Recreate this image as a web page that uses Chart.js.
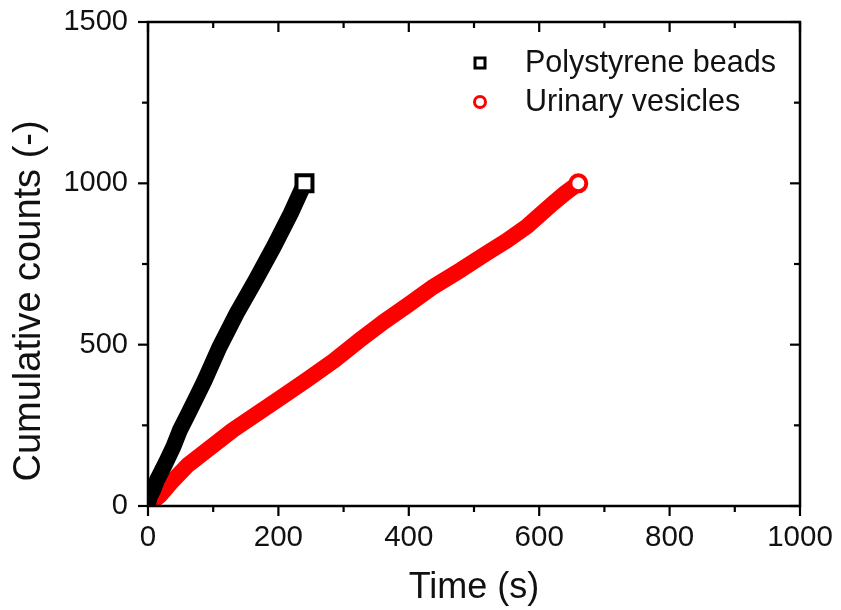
<!DOCTYPE html>
<html>
<head>
<meta charset="utf-8">
<script src="https://cdn.jsdelivr.net/npm/chart.js@4.4.1/dist/chart.umd.min.js"></script>
<style>
  html, body { margin: 0; padding: 0; background: #fff; }
  #c { display: block; }
</style>
</head>
<body>
<canvas id="c" width="841" height="610"></canvas>
<script>
// ---- data ----
const beadTime  = [0, 3, 8, 14, 27, 39, 49, 62, 75, 87, 110, 136, 165, 193, 219, 240];
const beadCount = [8, 30, 50, 81, 133, 184, 235, 287, 340, 390, 494, 597, 700, 804, 907, 1000];

const vesTime  = [0, 8, 18, 35, 60, 95, 130, 168, 206, 243, 285, 322, 361, 400, 438, 480, 519, 550, 581, 600, 621, 640, 660];
const vesCount = [5, 15, 32, 72, 125, 180, 235, 287, 339, 390, 450, 510, 570, 625, 680, 732, 783, 822, 866, 900, 938, 970, 1000];

const seriesLabels = ['Polystyrene beads', 'Urinary vesicles'];

const xTickValues = [0, 200, 400, 600, 800, 1000];
const xTickLabels = ['0', '200', '400', '600', '800', '1000'];
const xMinorTicks = [100, 300, 500, 700, 900];
const yTickValues = [0, 500, 1000, 1500];
const yTickLabels = ['0', '500', '1000', '1500'];
const yMinorTicks = [250, 750, 1250];

const FONT = "'Liberation Sans', Arial, sans-serif";

const toPts = (xs, ys) => xs.map((v, i) => ({ x: v, y: ys[i] }));

const framePlugin = {
  id: 'frame',
  afterDraw(chart) {
    const { ctx, chartArea: a } = chart;
    const xs = chart.scales.x, ys = chart.scales.y;
    ctx.save();
    ctx.strokeStyle = '#000';
    ctx.lineWidth = 2.5;
    ctx.strokeRect(a.left, a.top, a.right - a.left, a.bottom - a.top);
    ctx.lineWidth = 2.2;
    const seg = (x1, y1, x2, y2) => { ctx.beginPath(); ctx.moveTo(x1, y1); ctx.lineTo(x2, y2); ctx.stroke(); };
    const MAJ = 10, MIN = 6;
    xTickValues.forEach(v => { const p = xs.getPixelForValue(v); seg(p, a.bottom, p, a.bottom + MAJ); seg(p, a.top, p, a.top + MAJ); });
    xMinorTicks.forEach(v => { const p = xs.getPixelForValue(v); seg(p, a.bottom, p, a.bottom + MIN); seg(p, a.top, p, a.top + MIN); });
    yTickValues.forEach(v => { const p = ys.getPixelForValue(v); seg(a.left, p, a.left - MAJ, p); seg(a.right, p, a.right - MAJ, p); });
    yMinorTicks.forEach(v => { const p = ys.getPixelForValue(v); seg(a.left, p, a.left - MIN, p); seg(a.right, p, a.right - MIN, p); });

    // legend
    const items = chart.data.datasets;
    const lx = a.left + 332, ly0 = a.top + 41, gap = 39;
    ctx.font = '30.5px ' + FONT;
    ctx.textBaseline = 'middle';
    items.forEach((ds, i) => {
      const y = ly0 + i * gap;
      ctx.lineWidth = 3;
      ctx.strokeStyle = ds.borderColor;
      if (i === 0) {
        ctx.strokeRect(lx - 5, y - 5, 10, 10);
      } else {
        ctx.beginPath(); ctx.arc(lx, y, 5.5, 0, Math.PI * 2); ctx.stroke();
      }
      ctx.fillStyle = '#111';
      ctx.fillText(ds.label, lx + 45, y + 1);
    });
    ctx.restore();
  }
};

function lastOnly(len, r) { return c => (c.dataIndex === len - 1 ? r : 0); }

new Chart(document.getElementById('c'), {
  type: 'scatter',
  data: {
    datasets: [
      {
        label: seriesLabels[0],
        data: toPts(beadTime, beadCount),
        showLine: true,
        borderColor: '#000',
        borderWidth: 16,
        borderCapStyle: 'round',
        borderJoinStyle: 'round',
        pointStyle: 'rect',
        pointRadius: lastOnly(beadTime.length, 11.3),
        pointBackgroundColor: '#fff',
        pointBorderColor: '#000',
        pointBorderWidth: 4,
        clip: 0,
        order: 1
      },
      {
        label: seriesLabels[1],
        data: toPts(vesTime, vesCount),
        showLine: true,
        borderColor: '#ff0000',
        borderWidth: 16,
        borderCapStyle: 'round',
        borderJoinStyle: 'round',
        pointStyle: 'circle',
        pointRadius: lastOnly(vesTime.length, 8),
        pointBackgroundColor: '#fff',
        pointBorderColor: '#ff0000',
        pointBorderWidth: 4,
        clip: 0,
        order: 2
      }
    ]
  },
  options: {
    responsive: false,
    animation: false,
    devicePixelRatio: 1,
    layout: { padding: { top: 22, right: 41, left: 0, bottom: 0 } },
    plugins: { legend: { display: false }, tooltip: { enabled: false } },
    scales: {
      x: {
        type: 'linear', min: 0, max: 1000,
        afterFit: s => { s.height = 104; s.paddingLeft = 0; s.paddingRight = 0; },
        grid: { display: false, drawTicks: false },
        border: { display: false },
        ticks: {
          stepSize: 200, padding: 14, color: '#111', maxRotation: 0,
          font: { family: FONT, size: 29.5 },
          callback: v => { const i = xTickValues.indexOf(v); return i >= 0 ? xTickLabels[i] : ''; }
        },
        title: { display: true, text: 'Time (s)', color: '#111', font: { family: FONT, size: 36 }, padding: { top: 0, bottom: 0 } }
      },
      y: {
        type: 'linear', min: 0, max: 1500,
        afterFit: s => { s.width = 148; s.paddingTop = 0; s.paddingBottom = 0; },
        grid: { display: false, drawTicks: false },
        border: { display: false },
        ticks: {
          stepSize: 500, padding: 20, color: '#111',
          font: { family: FONT, size: 29 },
          callback: v => { const i = yTickValues.indexOf(v); return i >= 0 ? yTickLabels[i] : ''; }
        },
        title: { display: true, text: 'Cumulative counts (-)       ', color: '#111', font: { family: FONT, size: 38 }, padding: { top: 7, bottom: 0 } }
      }
    }
  },
  plugins: [framePlugin]
});
</script>
</body>
</html>
